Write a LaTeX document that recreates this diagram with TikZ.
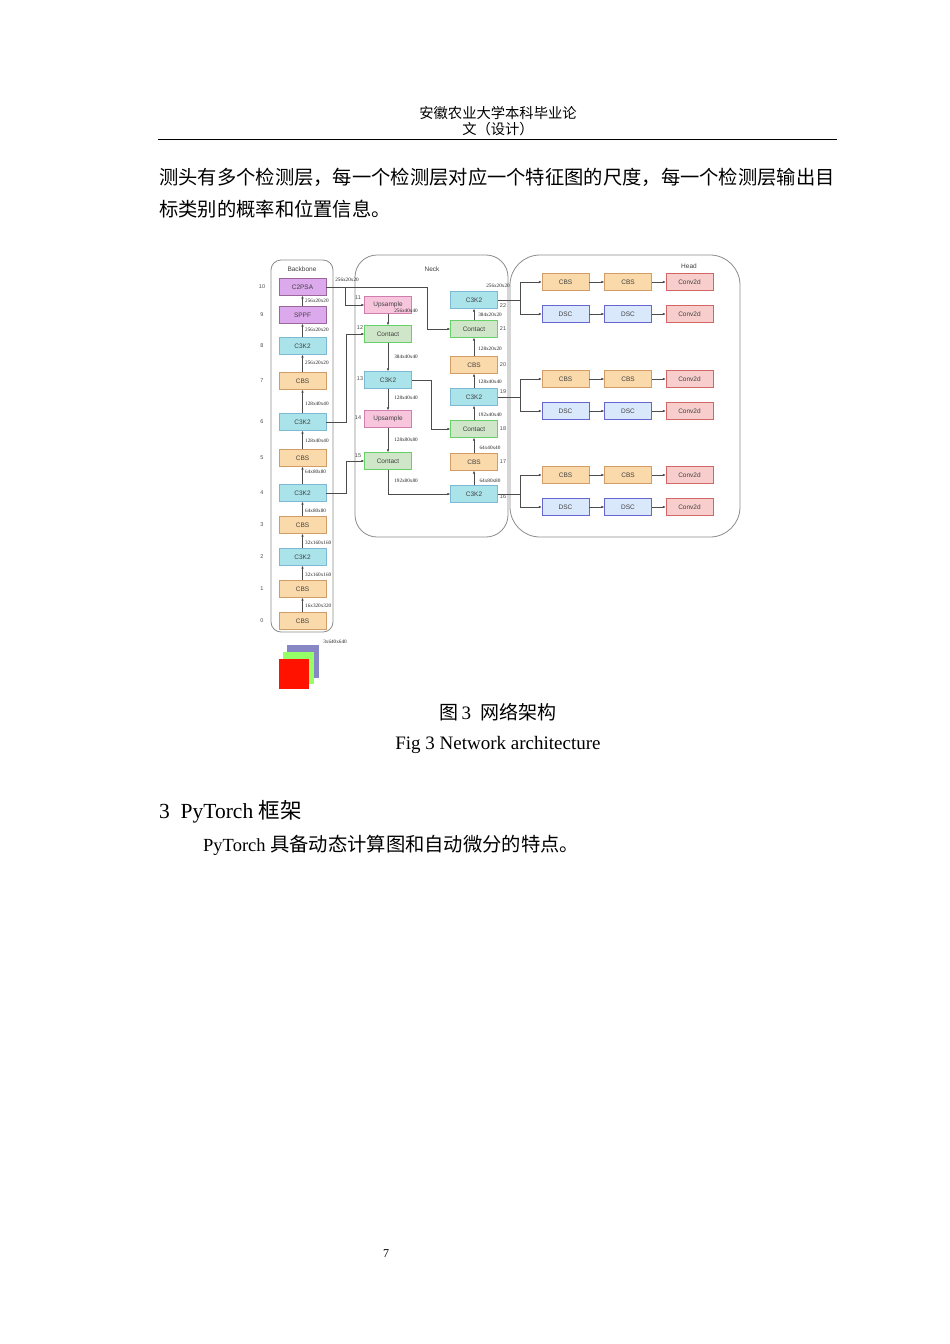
\documentclass[tikz,border=0pt]{standalone}
\usepackage{fontspec}
\setmainfont{Liberation Serif}
\setsansfont{Liberation Sans}
\newfontfamily\cjk{Noto Sans CJK SC}
\usetikzlibrary{arrows.meta}
\begin{document}
\begin{tikzpicture}[x=1pt,y=-1pt,
 blk/.style={draw=#1!70!black!60, minimum width=47pt, minimum height=17pt, inner sep=0pt, font=\sffamily\fontsize{6.5}{7}\selectfont, text=black!75},
 cbs/.style={blk=orange,fill=cbsc},
 c3k/.style={blk=cyan,fill=c3kc},
 psa/.style={blk=violet,fill=psac},
 ups/.style={blk=magenta,fill=upsc},
 con/.style={blk=green,fill=conc},
 dsc/.style={blk=blue,fill=dscc},
 cv/.style={blk=red,fill=cvc},
 dim/.style={font=\fontsize{5.2}{6}\selectfont, text=black!85, inner sep=0pt},
 num/.style={font=\sffamily\fontsize{5.5}{6}\selectfont, text=black!70, inner sep=0pt},
 arr/.style={draw=black!70, line width=0.5pt, -{Latex[length=3pt,width=2.5pt]}},
 ln/.style={draw=black!70, line width=0.5pt},
 grp/.style={draw=black!45, line width=0.8pt, rounded corners=16pt},
 ttl/.style={font=\sffamily\fontsize{6.5}{7}\selectfont, text=black!75}]
\definecolor{cbsc}{HTML}{FAD9AA}\definecolor{c3kc}{HTML}{ABE3EA}
\definecolor{psac}{HTML}{DCA9EC}\definecolor{upsc}{HTML}{F8C6DC}
\definecolor{conc}{HTML}{CFE6C8}\definecolor{dscc}{HTML}{DAE8FC}
\definecolor{cvc}{HTML}{F8CECC}
\useasboundingbox (0,0) rectangle (950,1344);
\fill[white] (0,0) rectangle (950,1344);
% header
\node[font=\cjk\fontsize{14.3}{16}\selectfont] (h1) at (498,113) {安徽农业大学本科毕业论};
\node[font=\cjk\fontsize{14.3}{16}\selectfont] (h2) at (498,129) {文（设计）};
\draw[line width=1pt] (158,139) -- (837,139);
\node[anchor=west,font=\cjk\fontsize{19.3}{22}\selectfont,inner sep=0pt] (p1) at (159,177) {测头有多个检测层，每一个检测层对应一个特征图的尺度，每一个检测层输出目};
\node[anchor=west,font=\cjk\fontsize{19.3}{22}\selectfont,inner sep=0pt] (p2) at (159,209) {标类别的概率和位置信息。};
% groups
\draw[grp,rounded corners=10pt] (271,260) rectangle (333,632);
\draw[grp,rounded corners=22pt] (355,255) rectangle (508,537);
\draw[grp,rounded corners=30pt] (510,255) rectangle (740,537);
\node[ttl] (tb) at (302,269) {Backbone};
\node[ttl] (tn) at (432,269) {Neck};
\node[ttl] (th) at (689,266) {Head};
% backbone
\node[psa] (b10) at (302.5,287) {C2PSA};
\node[psa] (b9) at (302.5,315) {SPPF};
\node[c3k] (b8) at (302.5,346) {C3K2};
\node[cbs] (b7) at (302.5,381) {CBS};
\node[c3k] (b6) at (302.5,422) {C3K2};
\node[cbs] (b5) at (302.5,458) {CBS};
\node[c3k] (b4) at (302.5,493) {C3K2};
\node[cbs] (b3) at (302.5,525) {CBS};
\node[c3k] (b2) at (302.5,557) {C3K2};
\node[cbs] (b1) at (302.5,589) {CBS};
\node[cbs] (b0) at (302.5,621) {CBS};
\foreach \i/\y in {10/287,9/315,8/346,7/381,6/422,5/458,4/493,3/525,2/557,1/589,0/621}
  \node[num] (l\i) at (262,\y) {\i};
\foreach \a/\b/\t/\y in {b9/b10/256x20x20/301,b8/b9/256x20x20/330,b7/b8/256x20x20/363,b6/b7/128x40x40/404,b5/b6/128x40x40/441,b4/b5/64x80x80/472,b3/b4/64x80x80/511,b2/b3/32x160x160/543,b1/b2/32x160x160/575,b0/b1/16x320x320/606}{
  \draw[arr] (\a.north) -- (\b.south);
  \node[dim,anchor=west] at (305,\y) {\t};}
\node[dim] (d0) at (347,280) {256x20x20};
% input
\fill[fill=blue!35!gray!70] (287,645) rectangle (319,678);
\fill[fill=green!60!lime!60] (283,652) rectangle (314,684);
\fill[fill=red!85!orange] (279,659) rectangle (309,689);
\node[dim] (din) at (335,642) {3x640x640};
% neck col1
\node[ups] (n11) at (388,305) {Upsample};
\node[con] (n12) at (388,334) {Contact};
\node[c3k] (n13) at (388,380) {C3K2};
\node[ups] (n14) at (388,419) {Upsample};
\node[con] (n15) at (388,461) {Contact};
\foreach \i/\x/\y in {11/358/298,12/360/328,13/360/379,14/358/418,15/358/456} \node[num] at (\x,\y) {\i};
% neck col2
\node[c3k] (n22) at (474,300) {C3K2};
\node[con] (n21) at (474,329) {Contact};
\node[cbs] (n20) at (474,365) {CBS};
\node[c3k] (n19) at (474,397) {C3K2};
\node[con] (n18) at (474,429) {Contact};
\node[cbs] (n17) at (474,462) {CBS};
\node[c3k] (n16) at (474,494) {C3K2};
\foreach \i/\y in {22/306,21/329,20/365,19/392,18/429,17/462,16/497} \node[num] at (503,\y) {\i};
% neck arrows
\draw[arr] (n11.south) -- (n12.north);
\draw[arr] (n12.south) -- (n13.north);
\draw[arr] (n13.south) -- (n14.north);
\draw[arr] (n14.south) -- (n15.north);
\foreach \a/\b in {n16/n17,n17/n18,n18/n19,n19/n20,n20/n21,n21/n22} \draw[arr] (\a.north) -- (\b.south);
\foreach \t/\y in {256x40x40/311,384x40x40/357,128x40x40/398,128x80x80/440,192x80x80/481} \node[dim] at (406,\y) {\t};
\foreach \t/\y in {384x20x20/315,128x20x20/349,128x40x40/382,192x40x40/415,64x40x40/448,64x80x80/481} \node[dim] at (490,\y) {\t};
\node[dim] (d22) at (498,286) {256x20x20};
% skip connections
\coordinate (k1) at (427,287);
\coordinate (k2) at (345,287);
\draw[arr] (b10.east) -- (k1) |- (n21.west);
\draw[arr] (k2) |- (n11.west);
\draw[arr] (b6.east) -- (346,422) |- (n12.west);
\draw[arr] (b4.east) -- (346,493) |- (n15.west);
\draw[arr] (n13.east) -- (431,380) |- (n18.west);
\draw[arr] (n15.south) |- (n16.west);
% head
\foreach \r/\src/\ya/\yb in {1/n22/282/314,2/n19/379/411,3/n16/475/507}{
  \node[cbs] (hc\r) at (565.5,\ya) {CBS};
  \node[cbs] (hd\r) at (628,\ya) {CBS};
  \node[cv] (he\r) at (689.5,\ya) {Conv2d};
  \node[dsc] (hf\r) at (565.5,\yb) {DSC};
  \node[dsc] (hg\r) at (628,\yb) {DSC};
  \node[cv] (hh\r) at (689.5,\yb) {Conv2d};
  \draw[ln] (\src.east) -- (520,0|-\src.east);
  \draw[arr] (520,0|-\src.east) |- (hc\r.west);
  \draw[arr] (520,0|-\src.east) |- (hf\r.west);
  \draw[arr] (hc\r) -- (hd\r); \draw[arr] (hd\r) -- (he\r);
  \draw[arr] (hf\r) -- (hg\r); \draw[arr] (hg\r) -- (hh\r);
}
% captions
\node[font=\cjk\fontsize{19}{22}\selectfont] (cap1) at (498,712) {图\,{\fontspec{Liberation Serif}3}\enspace 网络架构};
\node[font=\fontsize{19}{22}\selectfont] (cap2) at (498,745) {Fig 3 Network architecture};
\node[anchor=west,inner sep=0pt,font=\fontsize{21.5}{24}\selectfont] (sec) at (159,812) {3\enspace PyTorch {\cjk 框架}};
\node[anchor=west,inner sep=0pt,font=\fontsize{18.5}{21}\selectfont] (p3) at (203,845) {PyTorch {\cjk\fontsize{19.3}{21}\selectfont 具备动态计算图和自动微分的特点。}};
\node[font=\fontsize{12}{14}\selectfont] (pg) at (386,1254) {7};
\end{tikzpicture}
\end{document}
